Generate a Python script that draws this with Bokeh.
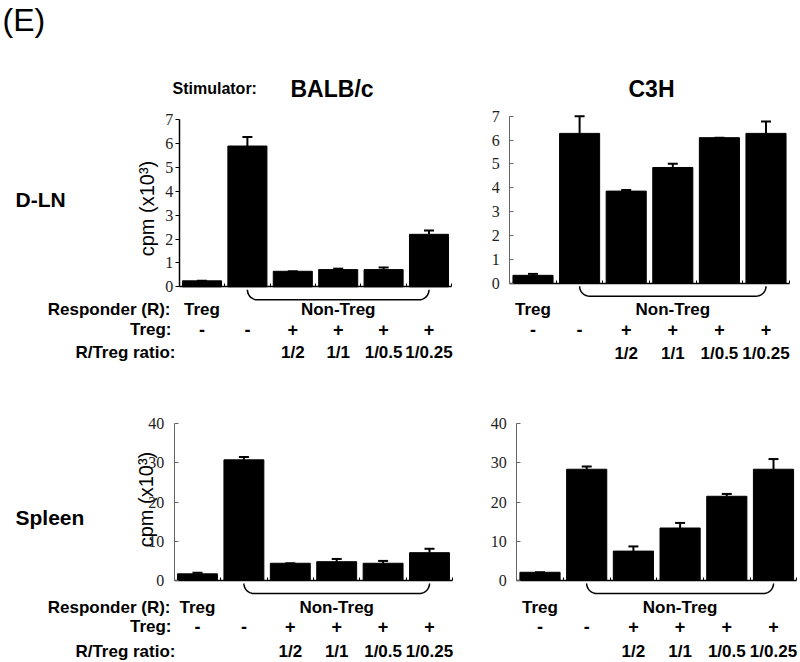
import numpy as np
from bokeh.plotting import figure
from bokeh.models import Range1d, LinearAxis, FixedTicker, ColumnDataSource, Whisker, TeeHead
from bokeh.core.properties import value
from bokeh.embed import file_html
from bokeh.resources import INLINE

# ---------------- data ----------------
positions = [1, 2, 3, 4, 5, 6]
responder = ["Treg", "Non-Treg", "Non-Treg", "Non-Treg", "Non-Treg", "Non-Treg"]
treg_added = ["-", "-", "+", "+", "+", "+"]
ratios = ["", "", "1/2", "1/1", "1/0.5", "1/0.25"]

dln_balbc = [0.25, 5.9, 0.65, 0.72, 0.72, 2.2]
dln_balbc_err = [0.0, 0.38, 0.0, 0.04, 0.09, 0.16]
dln_c3h = [0.33, 6.28, 3.86, 4.85, 6.1, 6.28]
dln_c3h_err = [0.06, 0.72, 0.05, 0.16, 0.0, 0.5]
spleen_balbc = [1.7, 30.8, 4.4, 4.8, 4.4, 7.1]
spleen_balbc_err = [0.3, 0.7, 0.0, 0.7, 0.6, 1.0]
spleen_c3h = [2.1, 28.4, 7.5, 13.4, 21.5, 28.4]
spleen_c3h_err = [0.0, 0.7, 1.2, 1.3, 0.6, 2.6]

ticks_dln = [0, 1, 2, 3, 4, 5, 6, 7]
ticks_spleen = [0, 10, 20, 30, 40]
boundaries = [1.5, 2.5, 3.5, 4.5, 5.5, 6.5]

# ---------------- layout ----------------
W, H = 800, 662
X0, Y0 = 0, 0
SANS = value("Liberation Sans")
SERIF = "Liberation Serif"

p = figure(width=W, height=H, x_range=Range1d(X0, X0 + W), y_range=Range1d(Y0 + H, Y0),
           x_axis_type=None, y_axis_type=None, min_border=0, toolbar_location=None,
           output_backend="svg", outline_line_color=None)

# panel geometry: pixel centre of bar 1 and 6, pixel of baseline and top tick
panels = [
    dict(name="tl", vals=dln_balbc, errs=dln_balbc_err, ticks=ticks_dln,
         c1=201.5, c6=428.5, base=286.3, top=119.3, dark=True, rows=(309, 329, 352)),
    dict(name="tr", vals=dln_c3h, errs=dln_c3h_err, ticks=ticks_dln,
         c1=532.5, c6=765.5, base=282.7, top=115.7, dark=False, rows=(309, 329, 353)),
    dict(name="bl", vals=spleen_balbc, errs=spleen_balbc_err, ticks=ticks_spleen,
         c1=197.0, c6=429.0, base=580.0, top=423.3, dark=False, rows=(607, 626, 651)),
    dict(name="br", vals=spleen_c3h, errs=spleen_c3h_err, ticks=ticks_spleen,
         c1=539.5, c6=773.0, base=580.0, top=423.3, dark=False, rows=(607, 626, 651)),
]


def lin(v0, p0, v1, p1):
    b = (p1 - p0) / (v1 - v0)
    return p0 - b * v0, b


xr, yr = {}, {}
for pn in panels:
    ax, bx = lin(positions[0], pn["c1"], positions[-1], pn["c6"])
    ay, by = lin(pn["ticks"][0], pn["base"], pn["ticks"][-1], pn["top"])
    pn.update(ax=ax, bx=bx)
    xr[pn["name"] + "_x"] = Range1d(start=(X0 - ax) / bx, end=(X0 + W - ax) / bx)
    yr[pn["name"] + "_y"] = Range1d(start=(Y0 + H - ay) / by, end=(Y0 - ay) / by)
p.extra_x_ranges = xr
p.extra_y_ranges = yr

for pn in panels:
    xn, yn = pn["name"] + "_x", pn["name"] + "_y"
    tops = [v + e for v, e in zip(pn["vals"], pn["errs"])]
    src = ColumnDataSource(dict(x=positions, top=pn["vals"], upper=tops))
    p.vbar(x="x", top="top", bottom=0, width=0.86, source=src, x_range_name=xn, y_range_name=yn,
           fill_color="black", line_color="black")
    p.add_layout(Whisker(source=src, base="x", lower="top", upper="upper", dimension="height",
                         x_range_name=xn, y_range_name=yn, line_width=2, line_color="black",
                         lower_head=None,
                         upper_head=TeeHead(size=10, line_width=2, line_color="black")))
    # y axis at the left category boundary
    yax = LinearAxis(y_range_name=yn, fixed_location=pn["ax"] + pn["bx"] * 0.5,
                     bounds=(pn["ticks"][0], pn["ticks"][-1]), ticker=FixedTicker(ticks=pn["ticks"]),
                     major_label_text_font=SERIF, major_label_text_font_size="16px",
                     major_label_text_color="#222", minor_tick_line_color=None)
    if pn["dark"]:
        yax.axis_line_color = "black"
        yax.axis_line_width = 1.5
        yax.major_tick_line_color = "black"
        yax.major_tick_in = 0
        yax.major_tick_out = 4
        yax.major_label_standoff = 2
    else:
        yax.axis_line_color = "#666"
        yax.major_tick_line_color = "#666"
        yax.major_tick_in = 4
        yax.major_tick_out = 0
        yax.major_label_standoff = 10
    p.add_layout(yax, "left")
    # baseline axis with small ticks between bars
    xax = LinearAxis(x_range_name=xn, fixed_location=pn["base"], bounds=(0.5, 6.5),
                     ticker=FixedTicker(ticks=boundaries), major_tick_in=3, major_tick_out=0,
                     axis_line_color="black", axis_line_width=1.5, major_tick_line_color="black",
                     major_label_text_color=None, minor_tick_line_color=None)
    p.add_layout(xax, "below")
    # bracket under the Non-Treg groups
    r = 10.0
    rx = r / pn["bx"]
    xa, xb = positions[1], positions[-1]
    y_top = pn["base"] + 3
    t1 = np.linspace(np.pi, np.pi / 2, 12)
    t2 = np.linspace(np.pi / 2, 0, 12)
    bx_pts = list(xa + rx + rx * np.cos(t1)) + list(xb - rx + rx * np.cos(t2))
    by_pts = list(y_top + r * np.sin(t1)) + list(y_top + r * np.sin(t2))
    p.line(bx_pts, by_pts, x_range_name=xn, line_color="black", line_width=1.5)
    # row labels under bars
    y_resp, y_treg, y_ratio = pn["rows"]
    groups = {}
    for pos, lab in zip(positions, responder):
        groups.setdefault(lab, []).append(pos)
    p.text(x=[float(np.mean(v)) for v in groups.values()], y=[y_resp] * len(groups),
           text=list(groups.keys()), x_range_name=xn, text_font=SANS, text_font_style="bold",
           text_font_size="17px", text_align="center", text_baseline="middle", text_color="black")
    p.text(x=positions, y=[y_treg] * 6, text=treg_added, x_range_name=xn, text_font=SANS,
           text_font_style="bold", text_font_size="18px", text_align="center",
           text_baseline="middle", text_color="black")
    p.text(x=positions, y=[y_ratio] * 6, text=ratios, x_range_name=xn, text_font=SANS,
           text_font_style="bold", text_font_size="17px", text_align="center",
           text_baseline="middle", text_color="black")

# left row captions
for yrow in (309, 607):
    p.text(x=[170], y=[yrow], text=["Responder (R):"], text_font=SANS, text_font_style="bold",
           text_font_size="17px", text_align="right", text_baseline="middle", text_color="black")
for yrow in (329, 626):
    p.text(x=[171], y=[yrow], text=["Treg:"], text_font=SANS, text_font_style="bold",
           text_font_size="17px", text_align="right", text_baseline="middle", text_color="black")
for yrow in (352, 651):
    p.text(x=[175], y=[yrow], text=["R/Treg ratio:"], text_font=SANS, text_font_style="bold",
           text_font_size="17px", text_align="right", text_baseline="middle", text_color="black")

# y axis titles
p.text(x=[146, 145], y=[208, 499], text=["cpm (x10³)", "cpm (x10³)"], angle=np.pi / 2,
       text_font=SANS, text_font_size="20px", text_align="center", text_baseline="middle",
       text_color="black")

# headers
p.text(x=[2], y=[19], text=["(E)"], text_font=SANS, text_font_size="32px",
       text_align="left", text_baseline="middle", text_color="black")
p.text(x=[172], y=[88], text=["Stimulator:"], text_font=SANS, text_font_style="bold",
       text_font_size="16px", text_align="left", text_baseline="middle", text_color="black")
p.text(x=[290, 628], y=[88, 88], text=["BALB/c", "C3H"], text_font=SANS, text_font_style="bold",
       text_font_size="23px", text_align="left", text_baseline="middle", text_color="black")
p.text(x=[15, 15], y=[199, 517], text=["D-LN", "Spleen"], text_font=SANS, text_font_style="bold",
       text_font_size="21px", text_align="left", text_baseline="middle", text_color="black")

open("out.html", "w").write(file_html(p, INLINE))
